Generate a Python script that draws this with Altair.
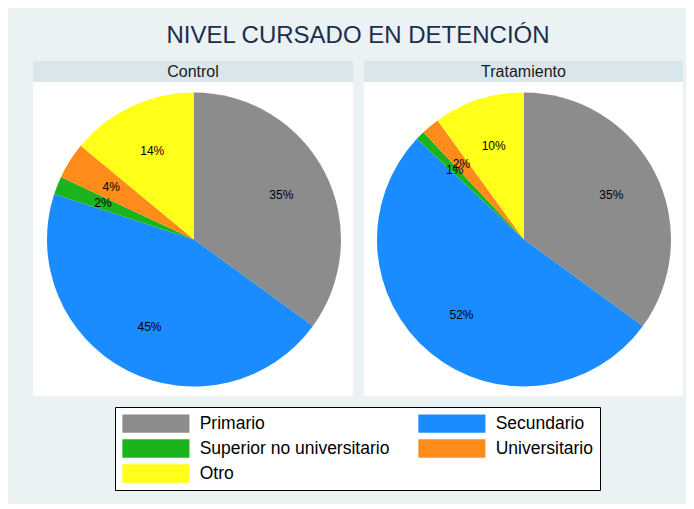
import altair as alt
import pandas as pd

categorias = ["Primario", "Secundario", "Superior no universitario", "Universitario", "Otro"]
colores = ["#8C8C8C", "#1A8CFF", "#1CB41C", "#FF8C1A", "#FFFF1A"]
grupos = ["Control", "Tratamiento"]
control = [35, 45, 2, 4, 14]
tratamiento = [35, 52, 1, 2, 10]

FONT = "Liberation Sans, Arial, Helvetica, sans-serif"
RADIO = 147
CY = 178.5


def panel(nombre, valores, ancho, cx):
    df = pd.DataFrame({
        "nivel": categorias,
        "pct": valores,
        "orden": list(range(len(categorias))),
        "grupo": nombre,
    })
    df["etiqueta"] = df["pct"].astype(str) + "%"
    base = alt.Chart(df)
    head = alt.Chart(pd.DataFrame({"grupo": [nombre]}))
    header_bg = head.mark_rect(fill="#D9E6EC").encode(
        x=alt.value(0), x2=alt.value(ancho), y=alt.value(0), y2=alt.value(21)
    )
    header_tx = head.mark_text(
        font=FONT, fontSize=16, color="#1a1a1a", baseline="middle", align="center"
    ).encode(x=alt.value(ancho / 2), y=alt.value(11), text="grupo:N")
    arc = base.mark_arc(radius=RADIO).encode(
        theta=alt.Theta("pct:Q", stack=True),
        color=alt.Color(
            "nivel:N",
            scale=alt.Scale(domain=categorias, range=colores),
            legend=alt.Legend(
                title=None,
                orient="none",
                direction="horizontal",
                legendX=82,
                legendY=346,
                columns=2,
                columnPadding=28,
                rowPadding=6,
                symbolType="M-1,-1L6.33,-1L6.33,1L-1,1Z",
                symbolSize=335,
                symbolStrokeWidth=0,
                symbolOpacity=1,
                labelFont=FONT,
                labelFontSize=17.5,
                labelColor="black",
                labelOffset=58.7,
                labelLimit=400,
                padding=7,
                strokeColor="black",
                fillColor="white",
                cornerRadius=0,
            ),
        ),
        order=alt.Order("orden:Q"),
        x=alt.value(cx),
        y=alt.value(CY),
    )
    txt = base.mark_text(radius=98, fontSize=12, font=FONT, color="black").encode(
        theta=alt.Theta("pct:Q", stack=True),
        order=alt.Order("orden:Q"),
        text="etiqueta:N",
        x=alt.value(cx),
        y=alt.value(CY),
    )
    return alt.layer(header_bg, header_tx, arc, txt).properties(width=ancho, height=335)


chart = (
    alt.hconcat(
        panel(grupos[0], control, 320, 161),
        panel(grupos[1], tratamiento, 319, 160),
        spacing=11,
    )
    .properties(
        title=alt.TitleParams(
            "NIVEL CURSADO EN DETENCIÓN",
            font=FONT,
            fontSize=24,
            fontWeight="normal",
            color="#1C2D4E",
            anchor="middle",
            offset=13,
        ),
        padding={"left": 25, "top": 16, "right": 3, "bottom": 13},
    )
    .configure(background="#EAF2F3")
    .configure_view(fill="white", strokeWidth=0)
)

chart.save("out.html", embed_options={"renderer": "svg", "actions": False})
